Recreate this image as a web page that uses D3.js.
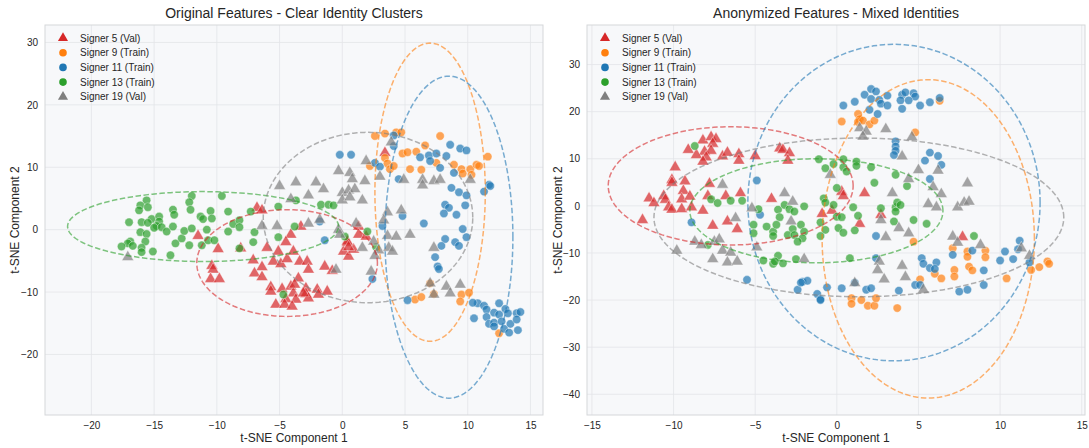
<!DOCTYPE html>
<html>
<head>
<meta charset="utf-8">
<script src="https://cdn.jsdelivr.net/npm/d3@7"></script>
<style>
  body { margin: 0; background: #fff; }
  svg text { font-family: "Liberation Sans", Arial, sans-serif; fill: #262626; }
</style>
</head>
<body>
<div id="chart"></div>
<script>
// Signer labels, colours and markers
const signerNames = ["Signer 5 (Val)", "Signer 9 (Train)", "Signer 11 (Train)", "Signer 13 (Train)", "Signer 19 (Val)"];
const signerColors = ["#d62728", "#ff7f0e", "#1f77b4", "#2ca02c", "#7f7f7f"];
const signerMarkers = ["triangle", "circle", "circle", "circle", "triangle"];

// ---- Original features (t-SNE) ----
const orig5 = [[-6.8,3.5],[-6.4,3.1],[-11.5,-1.0],[-9.9,-3.1],[-10.4,-5.8],[-10.3,-6.4],[-10.5,-7.9],[-9.8,-7.9],[-7.1,-4.9],[-6.4,-6.0],[-7.0,-7.0],[-6.4,-7.6],[-6.0,-2.9],[-5.1,-3.5],[-5.5,-5.1],[-4.9,-5.5],[-4.4,-4.7],[-3.9,-3.5],[-4.1,-0.8],[-4.5,-2.0],[-3.3,0.5],[-3.4,-5.1],[-2.8,-5.1],[-2.7,-6.4],[-3.5,-7.8],[-5.7,-9.2],[-5.7,-9.9],[-4.8,-9.5],[-4.1,-9.1],[-3.9,-10.2],[-3.7,-11.2],[-4.5,-11.1],[-5.3,-12.0],[-2.9,-9.4],[-2.9,-10.3],[-2.7,-11.0],[-2.0,-9.6],[-1.9,-10.4],[-1.2,-9.9],[-1.4,-5.9],[-0.8,-6.6],[0.1,-3.5],[0.4,-2.1],[0.5,-4.3],[0.9,-3.2],[1.3,0.5],[3.4,12.3],[1.3,-0.8],[1.9,-1.1],[0.4,-1.9],[0.5,-2.8],[-3.8,-8.8],[-3.1,-10.2],[-4.6,-12.0],[-4.0,-12.3],[-8.1,-3.0]];
const orig9 = [[2.6,15.0],[3.4,15.4],[4.3,15.6],[4.7,15.6],[7.8,15.0],[6.6,13.5],[4.8,12.2],[5.2,12.4],[5.9,12.5],[3.4,11.5],[3.6,10.6],[2.2,10.2],[3.8,9.7],[4.1,10.2],[5.4,9.7],[6.3,9.6],[7.5,10.7],[8.9,10.4],[9.5,9.7],[10.2,9.7],[9.6,9.0],[10.3,8.8],[10.7,10.4],[10.9,10.2],[11.6,11.7],[7.0,-8.6],[7.3,-10.3],[9.5,-10.4],[10.1,-10.1],[9.4,-11.5],[5.8,-11.2],[6.3,-10.8],[12.5,-16.6]];
const orig11 = [[4.1,15.1],[-0.2,12.0],[0.7,12.0],[4.1,13.4],[2.6,10.7],[3.0,10.1],[8.6,13.6],[9.4,13.0],[9.9,12.7],[6.2,11.6],[6.9,11.9],[7.5,12.2],[8.3,11.8],[7.0,11.0],[7.8,9.9],[8.9,9.1],[4.5,8.1],[8.7,6.7],[9.3,6.0],[9.9,5.5],[11.3,6.1],[11.7,7.2],[11.8,7.0],[8.2,4.0],[8.5,3.5],[8.1,2.6],[9.1,2.4],[9.8,3.9],[4.8,2.2],[3.2,0.6],[6.5,1.0],[9.6,0.1],[9.9,-1.2],[8.2,-1.5],[7.9,-2.6],[9.0,-2.0],[9.3,-2.6],[7.4,-4.4],[7.6,-5.9],[7.7,-6.3],[2.4,-7.9],[5.2,-11.3],[-1.8,1.3],[-1.4,-1.7],[10.5,-14.2],[10.8,-11.8],[11.3,-12.2],[11.5,-12.8],[11.5,-14.0],[12.1,-13.3],[12.5,-11.8],[12.5,-13.6],[13.0,-12.7],[13.2,-13.4],[11.7,-15.1],[12.1,-14.9],[12.1,-15.5],[12.7,-14.7],[12.9,-15.9],[13.3,-16.5],[13.4,-15.1],[13.9,-13.4],[14.2,-13.2],[13.9,-14.4],[14.0,-16.1],[10.4,-11.7]];
const orig13 = [[-15.6,4.7],[-16.1,3.9],[-15.5,3.6],[-16.2,3.1],[-12.0,5.4],[-9.6,5.4],[-12.2,4.4],[-12.1,3.2],[-13.5,3.2],[-13.4,2.4],[-17.0,1.2],[-16.0,1.2],[-15.2,1.7],[-14.6,2.1],[-15.5,1.1],[-14.6,1.3],[-14.8,0.6],[-15.0,0.3],[-14.4,0.4],[-14.0,-0.3],[-13.5,0.5],[-16.1,-0.4],[-15.6,-0.7],[-15.7,-1.9],[-16.9,-1.9],[-17.1,-2.2],[-17.6,-2.7],[-16.7,-2.6],[-16.0,-2.9],[-16.0,-3.6],[-15.1,-3.5],[-13.7,-4.1],[-13.3,-2.2],[-12.8,-1.4],[-12.6,-0.2],[-12.0,0.2],[-12.2,-2.5],[-11.3,2.1],[-11.1,1.7],[-10.5,3.0],[-10.4,1.8],[-10.8,0.0],[-11.2,-2.5],[-10.7,-1.7],[-10.2,-1.7],[-9.1,2.9],[-8.7,0.9],[-8.2,1.5],[-8.2,0.4],[-9.1,-0.3],[-8.2,-3.0],[-7.3,2.9],[-7.0,-0.4],[-7.1,-2.0],[-5.1,3.7],[-5.1,-1.2],[-3.7,4.7],[-3.8,0.5],[-4.7,-10.4],[-1.7,4.0],[-1.1,4.0],[-0.7,3.9],[2.0,-0.3],[0.2,-1.1],[2.7,-2.8]];
const orig19 = [[-17.1,-4.4],[-5.0,7.0],[-3.7,7.6],[-4.1,4.9],[-6.4,0.6],[-5.2,0.6],[-2.7,5.5],[-1.5,6.5],[-2.7,1.0],[-0.3,0.0],[1.1,1.0],[-0.5,-6.4],[-2.1,7.6],[-0.3,9.4],[0.6,9.1],[0.8,8.1],[1.8,7.8],[1.9,11.0],[3.0,8.5],[0.0,5.9],[0.5,6.3],[1.0,6.5],[0.0,4.7],[0.6,5.2],[1.6,4.7],[3.9,14.0],[4.9,8.0],[6.4,8.0],[6.4,7.1],[7.3,7.8],[7.8,8.0],[10.2,8.0],[3.6,2.8],[4.7,3.1],[3.3,1.5],[-1.8,1.6],[-0.2,-0.8],[3.6,-1.0],[4.3,-1.1],[5.4,-0.8],[2.5,-1.9],[1.6,-2.9],[2.9,-3.3],[3.7,-2.9],[4.0,-3.5],[2.6,-4.2],[2.3,-6.7],[7.3,-2.9],[7.0,-8.6],[7.3,-10.4],[8.3,-9.1],[8.6,-10.2],[9.4,-8.8]];
// cluster ellipses: [cx, cy, rx, ry]
const origEllipses = [[-4.4,-5.35,7.2,8.55],[7.0,6.0,4.4,23.9],[8.5,-1.2,5.1,25.8],[-11.1,0.5,10.8,5.6],[2.05,1.95,8.35,13.65]];

// ---- Anonymized features (t-SNE) ----
const anon5 = [[-9.1,11.9],[-8.2,13.9],[-7.7,14.6],[-7.4,14.2],[-7.6,13.2],[-8.1,11.5],[-7.7,11.7],[-8.6,10.8],[-8.0,10.3],[-8.2,9.4],[-7.0,10.5],[-6.7,11.3],[-6.0,11.0],[-6.0,9.6],[-5.0,10.6],[-3.5,12.2],[-3.3,11.9],[-2.9,11.2],[-3.0,9.6],[-9.9,8.2],[-10.1,5.5],[-9.3,5.2],[-10.1,4.9],[-10.6,2.1],[-10.5,1.3],[-11.5,1.6],[-11.2,0.6],[-9.4,3.2],[-9.5,1.4],[-9.0,2.0],[-10.3,-0.3],[-10.1,-0.8],[-9.5,-0.7],[-8.9,-0.3],[-11.9,-3.0],[-7.8,4.7],[-7.9,2.1],[-8.2,-1.0],[-6.8,2.1],[-5.9,2.7],[-7.6,-4.2],[-6.7,-3.3],[-6.1,-4.9],[-4.0,1.5],[-0.9,-1.7],[-0.3,-1.0],[0.3,3.0],[0.4,2.1],[1.7,2.7],[2.7,-1.9],[1.4,-3.8],[7.7,-6.6]];
const anon9 = [[0.3,17.9],[1.3,19.5],[1.4,18.4],[1.3,17.8],[1.6,18.1],[2.0,17.3],[2.3,18.1],[4.8,15.6],[6.3,22.3],[4.7,-7.6],[7.1,-9.0],[8.0,-9.7],[8.0,-10.8],[9.1,-9.5],[9.1,-10.9],[7.2,-13.6],[7.2,-15.0],[8.1,-12.9],[8.3,-13.7],[6.0,-14.4],[6.4,-15.4],[5.1,-15.6],[10.4,-15.4],[11.9,-13.6],[12.4,-13.0],[12.9,-11.8],[13.0,-12.3],[0.9,-19.6],[1.5,-20.0],[0.9,-20.8],[1.9,-21.2],[2.3,-21.2],[2.4,-19.6],[3.7,-21.7]];
const anon11 = [[0.4,21.3],[1.1,22.1],[1.7,23.6],[2.1,24.8],[2.4,24.3],[2.1,22.7],[2.6,22.5],[3.1,23.4],[2.7,21.7],[3.1,21.3],[2.0,20.4],[2.5,19.5],[4.0,23.6],[4.2,24.1],[4.7,23.9],[4.8,23.2],[3.9,22.4],[4.4,22.4],[5.1,21.3],[5.7,22.0],[6.3,22.9],[4.0,20.6],[3.6,13.7],[3.6,12.6],[3.6,11.7],[3.5,10.8],[5.7,11.3],[6.2,10.6],[5.4,9.6],[6.4,8.7],[5.7,5.7],[2.4,-6.4],[-4.7,-1.9],[-5.5,-15.7],[-2.4,-17.8],[-2.1,-16.1],[-1.8,-15.9],[-1.2,-18.7],[-1.0,-19.8],[-0.6,-17.3],[0.3,-17.5],[1.1,-16.3],[1.8,-17.8],[2.1,-17.5],[2.4,-11.1],[3.8,-18.0],[4.8,-16.8],[5.1,-16.8],[5.2,-11.1],[5.3,-12.3],[5.7,-13.2],[6.1,-12.0],[6.0,-13.4],[7.1,-10.4],[8.3,-9.5],[9.0,-13.7],[9.0,-16.8],[7.5,-18.2],[8.0,-17.8],[10.0,-11.6],[10.3,-9.7],[10.8,-11.3],[11.2,-7.4],[11.1,-9.2],[11.8,-12.0],[-4.9,5.4],[-8.9,-3.5],[-2.2,-16.3],[-1.0,-20.0]];
const anon13 = [[-8.7,12.7],[-7.7,1.4],[-7.3,0.6],[-6.5,1.1],[-5.8,1.1],[-7.9,-8.3],[-4.8,-0.7],[-5.1,-4.0],[-5.1,-5.8],[-4.3,-4.4],[-3.9,-5.5],[-3.9,-6.4],[-3.6,-0.8],[-3.5,-2.4],[-3.7,-4.0],[-3.2,0.2],[-2.9,-0.7],[-2.6,-1.2],[-2.0,-0.1],[-2.7,-4.9],[-3.0,-6.2],[-2.6,-6.2],[-2.2,-4.0],[-2.0,-5.5],[-2.1,-6.9],[-2.4,-7.6],[-1.1,9.9],[-0.7,8.0],[-0.2,8.9],[0.0,3.8],[-0.8,1.6],[-0.2,0.2],[-1.0,-3.5],[-0.7,-5.1],[-1.0,-6.4],[0.1,-4.7],[0.0,-2.3],[-4.5,-11.6],[-3.9,-12.3],[-3.6,-10.6],[-3.3,-12.2],[-2.5,-11.3],[-3.8,-11.8],[-0.7,0.7],[0.3,-2.4],[0.4,-5.7],[1.1,-5.2],[1.0,-0.3],[1.3,-2.1],[0.8,-11.1],[2.7,-0.5],[3.6,-0.3],[3.6,-1.2],[3.7,0.7],[3.9,0.2],[3.5,-3.3],[4.7,-3.0],[5.5,-3.8],[8.4,-6.4],[0.4,9.9],[1.2,9.4],[1.2,8.5],[0.4,8.2],[0.6,7.3],[2.1,8.2],[3.6,6.6],[2.3,4.9],[4.3,4.2]];
const anon19 = [[-7.0,4.5],[-6.2,-2.6],[-5.2,-0.5],[-3.2,2.7],[-2.7,0.9],[-2.8,-3.3],[-0.4,6.6],[-8.7,-7.6],[-8.3,-8.3],[-7.5,-7.6],[-7.2,-7.1],[-9.8,-9.5],[-7.0,-9.5],[-6.5,-9.9],[-7.6,-11.3],[-6.7,-12.0],[-6.1,-11.8],[-4.9,-8.8],[-2.0,-11.3],[2.7,-3.0],[3.0,-6.6],[3.8,-4.7],[4.4,-5.8],[2.6,-11.8],[2.5,-13.6],[2.9,-15.6],[4.0,-12.7],[4.2,-15.1],[5.3,-17.8],[1.1,-16.4],[5.6,0.4],[6.1,-0.3],[7.4,-0.3],[7.8,0.7],[8.1,0.9],[7.1,-6.5],[7.4,-7.8],[8.8,-8.3],[11.3,-9.0],[11.8,-10.6],[1.4,16.5],[1.8,15.8],[1.6,14.7],[3.0,16.3],[4.6,14.6],[4.0,10.5],[5.0,7.6],[6.2,7.5],[4.4,5.7],[5.9,4.0],[6.4,2.5],[8.0,4.8],[3.4,2.7]];
const anonEllipses = [[-6.5,4.25,7.5,12.55],[5.6,-7.0,6.5,33.8],[3.5,0.7,8.95,33.6],[-1.25,-1.05,7.75,11.05],[1.35,-2.45,12.55,16.85]];

// tick labels
const origXTicks = [-20, -15, -10, -5, 0, 5, 10, 15];
const origYTicks = [-20, -10, 0, 10, 20, 30];
const anonXTicks = [-15, -10, -5, 0, 5, 10, 15];
const anonYTicks = [-40, -30, -20, -10, 0, 10, 20, 30];

const W = 1089, H = 448;
const plotTop = 25, plotBottom = 415;

const panels = [
  { title: "Original Features - Clear Identity Clusters", left: 45, right: 543,
    xDomain: [-23.7, 16.0], yDomain: [-29.7, 32.8], xTicks: origXTicks, yTicks: origYTicks,
    series: [orig5, orig9, orig11, orig13, orig19], ellipses: origEllipses, ylabX: 15 },
  { title: "Anonymized Features - Mixed Identities", left: 587, right: 1085,
    xDomain: [-15.3, 15.2], yDomain: [-44.4, 38.4], xTicks: anonXTicks, yTicks: anonYTicks,
    series: [anon5, anon9, anon11, anon13, anon19], ellipses: anonEllipses, ylabX: 558 }
];

const svg = d3.select("#chart").append("svg")
  .attr("width", W).attr("height", H);

const triangle = d3.symbol().type(d3.symbolTriangle);
const fmt = d => d < 0 ? "\u2212" + Math.abs(d) : d;

panels.forEach((p, pi) => {
  const x = d3.scaleLinear().domain(p.xDomain).range([p.left, p.right]);
  const y = d3.scaleLinear().domain(p.yDomain).range([plotBottom, plotTop]);
  const g = svg.append("g");

  // background + grid
  g.append("rect")
    .attr("x", p.left).attr("y", plotTop)
    .attr("width", p.right - p.left).attr("height", plotBottom - plotTop)
    .attr("fill", "#f7f8fa");

  g.append("g").selectAll("line").data(p.xTicks).join("line")
    .attr("x1", d => x(d)).attr("x2", d => x(d))
    .attr("y1", plotTop).attr("y2", plotBottom)
    .attr("stroke", "#e3e5e8").attr("stroke-width", 0.8);
  g.append("g").selectAll("line").data(p.yTicks).join("line")
    .attr("y1", d => y(d)).attr("y2", d => y(d))
    .attr("x1", p.left).attr("x2", p.right)
    .attr("stroke", "#e3e5e8").attr("stroke-width", 0.8);

  // axes (labels only, no tick marks)
  const xAxis = g.append("g").attr("transform", `translate(0,${plotBottom})`)
    .call(d3.axisBottom(x).tickValues(p.xTicks).tickSize(0).tickPadding(7).tickFormat(fmt));
  const yAxis = g.append("g").attr("transform", `translate(${p.left},0)`)
    .call(d3.axisLeft(y).tickValues(p.yTicks).tickSize(0).tickPadding(7).tickFormat(fmt));
  [xAxis, yAxis].forEach(a => {
    a.select(".domain").remove();
    a.selectAll("text").attr("font-size", 10).attr("fill", "#333");
  });

  const clipId = "clip" + pi;
  g.append("clipPath").attr("id", clipId).append("rect")
    .attr("x", p.left).attr("y", plotTop)
    .attr("width", p.right - p.left).attr("height", plotBottom - plotTop);
  const plot = g.append("g").attr("clip-path", `url(#${clipId})`);

  // scatter points
  p.series.forEach((pts, si) => {
    const col = signerColors[si];
    if (signerMarkers[si] === "circle") {
      plot.append("g").selectAll("circle").data(pts).join("circle")
        .attr("cx", d => x(d[0])).attr("cy", d => y(d[1]))
        .attr("r", 4.2)
        .attr("fill", col).attr("fill-opacity", 0.7)
        .attr("stroke", "#fff").attr("stroke-width", 0.5).attr("stroke-opacity", 0.8);
    } else {
      plot.append("g").selectAll("path").data(pts).join("path")
        .attr("d", triangle.size(62))
        .attr("transform", d => `translate(${x(d[0])},${y(d[1])})`)
        .attr("fill", col).attr("fill-opacity", 0.7)
        .attr("stroke", "#fff").attr("stroke-width", 0.5).attr("stroke-opacity", 0.8);
    }
  });

  // cluster ellipses (dashed)
  const line = d3.line().x(d => x(d[0])).y(d => y(d[1])).curve(d3.curveLinearClosed);
  p.ellipses.forEach((e, si) => {
    const ring = d3.range(0, 2 * Math.PI, Math.PI / 90)
      .map(t => [e[0] + e[2] * Math.cos(t), e[1] + e[3] * Math.sin(t)]);
    plot.append("path")
      .attr("d", line(ring))
      .attr("fill", "none")
      .attr("stroke", signerColors[si]).attr("stroke-opacity", 0.6)
      .attr("stroke-width", 1.5).attr("stroke-dasharray", "5.5,2.5");
  });

  // frame
  g.append("rect")
    .attr("x", p.left).attr("y", plotTop)
    .attr("width", p.right - p.left).attr("height", plotBottom - plotTop)
    .attr("fill", "none").attr("stroke", "#d5d7da").attr("stroke-width", 1);

  // titles and axis labels
  g.append("text")
    .attr("x", (p.left + p.right) / 2).attr("y", 18)
    .attr("text-anchor", "middle").attr("font-size", 14)
    .text(p.title);
  g.append("text")
    .attr("x", (p.left + p.right) / 2).attr("y", 442)
    .attr("text-anchor", "middle").attr("font-size", 12)
    .text("t-SNE Component 1");
  g.append("text")
    .attr("transform", `translate(${p.ylabX},${(plotTop + plotBottom) / 2}) rotate(-90)`)
    .attr("text-anchor", "middle").attr("dy", "0.35em").attr("font-size", 12)
    .text("t-SNE Component 2");

  // legend
  const legend = g.append("g").attr("transform", `translate(${p.left + 18},38)`);
  const item = legend.selectAll("g").data(signerNames).join("g")
    .attr("transform", (d, i) => `translate(0,${i * 14.7})`);
  item.each(function(d, i) {
    const it = d3.select(this);
    if (signerMarkers[i] === "circle") {
      it.append("circle").attr("r", 3.8).attr("fill", signerColors[i]);
    } else {
      it.append("path").attr("d", d3.symbol().type(d3.symbolTriangle).size(44)).attr("fill", signerColors[i]);
    }
  });
  item.append("text")
    .attr("x", 17).attr("dy", "0.35em").attr("font-size", 10).attr("fill", "#333")
    .text(d => d);
});
</script>
</body>
</html>
